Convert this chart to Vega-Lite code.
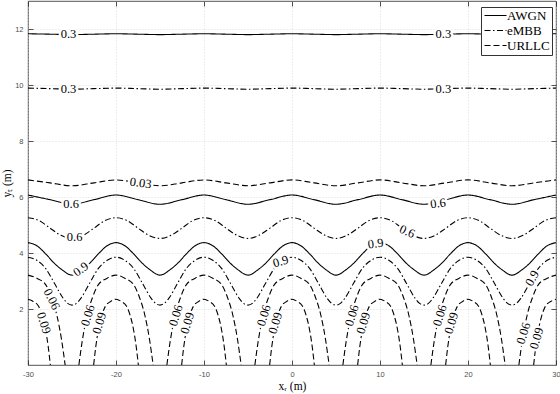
{
"$schema": "https://vega.github.io/schema/vega-lite/v6.json",
"width": 528, "height": 364,
"autosize": {"type": "none"},
"padding": {"left": 28, "top": 1, "right": 4, "bottom": 29},
"background": "white",
"config": {"view": {"stroke": "#262626", "strokeWidth": 0.8}},
"datasets": {
"lines": [
{"s":"AWGN","c":"A3","x":-30,"y":11.83},{"s":"AWGN","c":"A3","x":-27.5,"y":11.815},{"s":"AWGN","c":"A3","x":-25,"y":11.8},{"s":"AWGN","c":"A3","x":-22.5,"y":11.815},{"s":"AWGN","c":"A3","x":-20,"y":11.83},{"s":"AWGN","c":"A3","x":-17.5,"y":11.815},{"s":"AWGN","c":"A3","x":-15,"y":11.8},{"s":"AWGN","c":"A3","x":-12.5,"y":11.815},{"s":"AWGN","c":"A3","x":-10,"y":11.83},{"s":"AWGN","c":"A3","x":-7.5,"y":11.815},{"s":"AWGN","c":"A3","x":-5,"y":11.8},{"s":"AWGN","c":"A3","x":-2.5,"y":11.815},{"s":"AWGN","c":"A3","x":0,"y":11.83},{"s":"AWGN","c":"A3","x":2.5,"y":11.815},{"s":"AWGN","c":"A3","x":5,"y":11.8},{"s":"AWGN","c":"A3","x":7.5,"y":11.815},{"s":"AWGN","c":"A3","x":10,"y":11.83},{"s":"AWGN","c":"A3","x":12.5,"y":11.815},{"s":"AWGN","c":"A3","x":15,"y":11.8},{"s":"AWGN","c":"A3","x":17.5,"y":11.815},{"s":"AWGN","c":"A3","x":20,"y":11.83},{"s":"AWGN","c":"A3","x":22.5,"y":11.815},{"s":"AWGN","c":"A3","x":25,"y":11.8},{"s":"AWGN","c":"A3","x":27.5,"y":11.815},{"s":"AWGN","c":"A3","x":30,"y":11.83},
{"s":"eMBB","c":"E3","x":-30,"y":9.89},{"s":"eMBB","c":"E3","x":-27.5,"y":9.87},{"s":"eMBB","c":"E3","x":-25,"y":9.85},{"s":"eMBB","c":"E3","x":-22.5,"y":9.87},{"s":"eMBB","c":"E3","x":-20,"y":9.89},{"s":"eMBB","c":"E3","x":-17.5,"y":9.87},{"s":"eMBB","c":"E3","x":-15,"y":9.85},{"s":"eMBB","c":"E3","x":-12.5,"y":9.87},{"s":"eMBB","c":"E3","x":-10,"y":9.89},{"s":"eMBB","c":"E3","x":-7.5,"y":9.87},{"s":"eMBB","c":"E3","x":-5,"y":9.85},{"s":"eMBB","c":"E3","x":-2.5,"y":9.87},{"s":"eMBB","c":"E3","x":0,"y":9.89},{"s":"eMBB","c":"E3","x":2.5,"y":9.87},{"s":"eMBB","c":"E3","x":5,"y":9.85},{"s":"eMBB","c":"E3","x":7.5,"y":9.87},{"s":"eMBB","c":"E3","x":10,"y":9.89},{"s":"eMBB","c":"E3","x":12.5,"y":9.87},{"s":"eMBB","c":"E3","x":15,"y":9.85},{"s":"eMBB","c":"E3","x":17.5,"y":9.87},{"s":"eMBB","c":"E3","x":20,"y":9.89},{"s":"eMBB","c":"E3","x":22.5,"y":9.87},{"s":"eMBB","c":"E3","x":25,"y":9.85},{"s":"eMBB","c":"E3","x":27.5,"y":9.87},{"s":"eMBB","c":"E3","x":30,"y":9.89},
{"s":"URLLC","c":"U3","x":-30,"y":6.61},{"s":"URLLC","c":"U3","x":-27.5,"y":6.505},{"s":"URLLC","c":"U3","x":-25,"y":6.4},{"s":"URLLC","c":"U3","x":-22.5,"y":6.505},{"s":"URLLC","c":"U3","x":-20,"y":6.61},{"s":"URLLC","c":"U3","x":-17.5,"y":6.505},{"s":"URLLC","c":"U3","x":-15,"y":6.4},{"s":"URLLC","c":"U3","x":-12.5,"y":6.505},{"s":"URLLC","c":"U3","x":-10,"y":6.61},{"s":"URLLC","c":"U3","x":-7.5,"y":6.505},{"s":"URLLC","c":"U3","x":-5,"y":6.4},{"s":"URLLC","c":"U3","x":-2.5,"y":6.505},{"s":"URLLC","c":"U3","x":0,"y":6.61},{"s":"URLLC","c":"U3","x":2.5,"y":6.505},{"s":"URLLC","c":"U3","x":5,"y":6.4},{"s":"URLLC","c":"U3","x":7.5,"y":6.505},{"s":"URLLC","c":"U3","x":10,"y":6.61},{"s":"URLLC","c":"U3","x":12.5,"y":6.505},{"s":"URLLC","c":"U3","x":15,"y":6.4},{"s":"URLLC","c":"U3","x":17.5,"y":6.505},{"s":"URLLC","c":"U3","x":20,"y":6.61},{"s":"URLLC","c":"U3","x":22.5,"y":6.505},{"s":"URLLC","c":"U3","x":25,"y":6.4},{"s":"URLLC","c":"U3","x":27.5,"y":6.505},{"s":"URLLC","c":"U3","x":30,"y":6.61},
{"s":"AWGN","c":"A6","x":-30,"y":6.07},{"s":"AWGN","c":"A6","x":-27.5,"y":5.905},{"s":"AWGN","c":"A6","x":-25,"y":5.74},{"s":"AWGN","c":"A6","x":-22.5,"y":5.905},{"s":"AWGN","c":"A6","x":-20,"y":6.07},{"s":"AWGN","c":"A6","x":-17.5,"y":5.905},{"s":"AWGN","c":"A6","x":-15,"y":5.74},{"s":"AWGN","c":"A6","x":-12.5,"y":5.905},{"s":"AWGN","c":"A6","x":-10,"y":6.07},{"s":"AWGN","c":"A6","x":-7.5,"y":5.905},{"s":"AWGN","c":"A6","x":-5,"y":5.74},{"s":"AWGN","c":"A6","x":-2.5,"y":5.905},{"s":"AWGN","c":"A6","x":0,"y":6.07},{"s":"AWGN","c":"A6","x":2.5,"y":5.905},{"s":"AWGN","c":"A6","x":5,"y":5.74},{"s":"AWGN","c":"A6","x":7.5,"y":5.905},{"s":"AWGN","c":"A6","x":10,"y":6.07},{"s":"AWGN","c":"A6","x":12.5,"y":5.905},{"s":"AWGN","c":"A6","x":15,"y":5.74},{"s":"AWGN","c":"A6","x":17.5,"y":5.905},{"s":"AWGN","c":"A6","x":20,"y":6.07},{"s":"AWGN","c":"A6","x":22.5,"y":5.905},{"s":"AWGN","c":"A6","x":25,"y":5.74},{"s":"AWGN","c":"A6","x":27.5,"y":5.905},{"s":"AWGN","c":"A6","x":30,"y":6.07},
{"s":"eMBB","c":"E6","x":-30,"y":5.26},{"s":"eMBB","c":"E6","x":-28.75,"y":5.16},{"s":"eMBB","c":"E6","x":-27.5,"y":4.89},{"s":"eMBB","c":"E6","x":-26.25,"y":4.63},{"s":"eMBB","c":"E6","x":-25,"y":4.52},{"s":"eMBB","c":"E6","x":-23.75,"y":4.63},{"s":"eMBB","c":"E6","x":-22.5,"y":4.89},{"s":"eMBB","c":"E6","x":-21.25,"y":5.16},
{"s":"eMBB","c":"E6","x":-20,"y":5.26},{"s":"eMBB","c":"E6","x":-18.75,"y":5.16},{"s":"eMBB","c":"E6","x":-17.5,"y":4.89},{"s":"eMBB","c":"E6","x":-16.25,"y":4.63},{"s":"eMBB","c":"E6","x":-15,"y":4.52},{"s":"eMBB","c":"E6","x":-13.75,"y":4.63},{"s":"eMBB","c":"E6","x":-12.5,"y":4.89},{"s":"eMBB","c":"E6","x":-11.25,"y":5.16},
{"s":"eMBB","c":"E6","x":-10,"y":5.26},{"s":"eMBB","c":"E6","x":-8.75,"y":5.16},{"s":"eMBB","c":"E6","x":-7.5,"y":4.89},{"s":"eMBB","c":"E6","x":-6.25,"y":4.63},{"s":"eMBB","c":"E6","x":-5,"y":4.52},{"s":"eMBB","c":"E6","x":-3.75,"y":4.63},{"s":"eMBB","c":"E6","x":-2.5,"y":4.89},{"s":"eMBB","c":"E6","x":-1.25,"y":5.16},
{"s":"eMBB","c":"E6","x":0,"y":5.26},{"s":"eMBB","c":"E6","x":1.25,"y":5.16},{"s":"eMBB","c":"E6","x":2.5,"y":4.89},{"s":"eMBB","c":"E6","x":3.75,"y":4.63},{"s":"eMBB","c":"E6","x":5,"y":4.52},{"s":"eMBB","c":"E6","x":6.25,"y":4.63},{"s":"eMBB","c":"E6","x":7.5,"y":4.89},{"s":"eMBB","c":"E6","x":8.75,"y":5.16},
{"s":"eMBB","c":"E6","x":10,"y":5.26},{"s":"eMBB","c":"E6","x":11.25,"y":5.16},{"s":"eMBB","c":"E6","x":12.5,"y":4.89},{"s":"eMBB","c":"E6","x":13.75,"y":4.63},{"s":"eMBB","c":"E6","x":15,"y":4.52},{"s":"eMBB","c":"E6","x":16.25,"y":4.63},{"s":"eMBB","c":"E6","x":17.5,"y":4.89},{"s":"eMBB","c":"E6","x":18.75,"y":5.16},
{"s":"eMBB","c":"E6","x":20,"y":5.26},{"s":"eMBB","c":"E6","x":21.25,"y":5.16},{"s":"eMBB","c":"E6","x":22.5,"y":4.89},{"s":"eMBB","c":"E6","x":23.75,"y":4.63},{"s":"eMBB","c":"E6","x":25,"y":4.52},{"s":"eMBB","c":"E6","x":26.25,"y":4.63},{"s":"eMBB","c":"E6","x":27.5,"y":4.89},{"s":"eMBB","c":"E6","x":28.75,"y":5.16},
{"s":"eMBB","c":"E6","x":30,"y":5.26},
{"s":"AWGN","c":"A9","x":-30,"y":4.37},{"s":"AWGN","c":"A9","x":-29,"y":4.26},{"s":"AWGN","c":"A9","x":-28,"y":3.97},{"s":"AWGN","c":"A9","x":-27,"y":3.63},{"s":"AWGN","c":"A9","x":-26,"y":3.37},{"s":"AWGN","c":"A9","x":-25.5,"y":3.26},{"s":"AWGN","c":"A9","x":-25,"y":3.21},{"s":"AWGN","c":"A9","x":-24.5,"y":3.26},{"s":"AWGN","c":"A9","x":-24,"y":3.37},{"s":"AWGN","c":"A9","x":-23,"y":3.63},{"s":"AWGN","c":"A9","x":-22,"y":3.97},{"s":"AWGN","c":"A9","x":-21,"y":4.26},
{"s":"AWGN","c":"A9","x":-20,"y":4.37},{"s":"AWGN","c":"A9","x":-19,"y":4.26},{"s":"AWGN","c":"A9","x":-18,"y":3.97},{"s":"AWGN","c":"A9","x":-17,"y":3.63},{"s":"AWGN","c":"A9","x":-16,"y":3.37},{"s":"AWGN","c":"A9","x":-15.5,"y":3.26},{"s":"AWGN","c":"A9","x":-15,"y":3.21},{"s":"AWGN","c":"A9","x":-14.5,"y":3.26},{"s":"AWGN","c":"A9","x":-14,"y":3.37},{"s":"AWGN","c":"A9","x":-13,"y":3.63},{"s":"AWGN","c":"A9","x":-12,"y":3.97},{"s":"AWGN","c":"A9","x":-11,"y":4.26},
{"s":"AWGN","c":"A9","x":-10,"y":4.37},{"s":"AWGN","c":"A9","x":-9,"y":4.26},{"s":"AWGN","c":"A9","x":-8,"y":3.97},{"s":"AWGN","c":"A9","x":-7,"y":3.63},{"s":"AWGN","c":"A9","x":-6,"y":3.37},{"s":"AWGN","c":"A9","x":-5.5,"y":3.26},{"s":"AWGN","c":"A9","x":-5,"y":3.21},{"s":"AWGN","c":"A9","x":-4.5,"y":3.26},{"s":"AWGN","c":"A9","x":-4,"y":3.37},{"s":"AWGN","c":"A9","x":-3,"y":3.63},{"s":"AWGN","c":"A9","x":-2,"y":3.97},{"s":"AWGN","c":"A9","x":-1,"y":4.26},
{"s":"AWGN","c":"A9","x":0,"y":4.37},{"s":"AWGN","c":"A9","x":1,"y":4.26},{"s":"AWGN","c":"A9","x":2,"y":3.97},{"s":"AWGN","c":"A9","x":3,"y":3.63},{"s":"AWGN","c":"A9","x":4,"y":3.37},{"s":"AWGN","c":"A9","x":4.5,"y":3.26},{"s":"AWGN","c":"A9","x":5,"y":3.21},{"s":"AWGN","c":"A9","x":5.5,"y":3.26},{"s":"AWGN","c":"A9","x":6,"y":3.37},{"s":"AWGN","c":"A9","x":7,"y":3.63},{"s":"AWGN","c":"A9","x":8,"y":3.97},{"s":"AWGN","c":"A9","x":9,"y":4.26},
{"s":"AWGN","c":"A9","x":10,"y":4.37},{"s":"AWGN","c":"A9","x":11,"y":4.26},{"s":"AWGN","c":"A9","x":12,"y":3.97},{"s":"AWGN","c":"A9","x":13,"y":3.63},{"s":"AWGN","c":"A9","x":14,"y":3.37},{"s":"AWGN","c":"A9","x":14.5,"y":3.26},{"s":"AWGN","c":"A9","x":15,"y":3.21},{"s":"AWGN","c":"A9","x":15.5,"y":3.26},{"s":"AWGN","c":"A9","x":16,"y":3.37},{"s":"AWGN","c":"A9","x":17,"y":3.63},{"s":"AWGN","c":"A9","x":18,"y":3.97},{"s":"AWGN","c":"A9","x":19,"y":4.26},
{"s":"AWGN","c":"A9","x":20,"y":4.37},{"s":"AWGN","c":"A9","x":21,"y":4.26},{"s":"AWGN","c":"A9","x":22,"y":3.97},{"s":"AWGN","c":"A9","x":23,"y":3.63},{"s":"AWGN","c":"A9","x":24,"y":3.37},{"s":"AWGN","c":"A9","x":24.5,"y":3.26},{"s":"AWGN","c":"A9","x":25,"y":3.21},{"s":"AWGN","c":"A9","x":25.5,"y":3.26},{"s":"AWGN","c":"A9","x":26,"y":3.37},{"s":"AWGN","c":"A9","x":27,"y":3.63},{"s":"AWGN","c":"A9","x":28,"y":3.97},{"s":"AWGN","c":"A9","x":29,"y":4.26},
{"s":"AWGN","c":"A9","x":30,"y":4.37},
{"s":"eMBB","c":"E9","x":-30,"y":3.85},{"s":"eMBB","c":"E9","x":-29,"y":3.74},{"s":"eMBB","c":"E9","x":-28,"y":3.45},{"s":"eMBB","c":"E9","x":-27,"y":2.92},{"s":"eMBB","c":"E9","x":-26,"y":2.38},{"s":"eMBB","c":"E9","x":-25.5,"y":2.2},{"s":"eMBB","c":"E9","x":-25,"y":2.14},{"s":"eMBB","c":"E9","x":-24.5,"y":2.2},{"s":"eMBB","c":"E9","x":-24,"y":2.38},{"s":"eMBB","c":"E9","x":-23,"y":2.92},{"s":"eMBB","c":"E9","x":-22,"y":3.45},{"s":"eMBB","c":"E9","x":-21,"y":3.74},
{"s":"eMBB","c":"E9","x":-20,"y":3.85},{"s":"eMBB","c":"E9","x":-19,"y":3.74},{"s":"eMBB","c":"E9","x":-18,"y":3.45},{"s":"eMBB","c":"E9","x":-17,"y":2.92},{"s":"eMBB","c":"E9","x":-16,"y":2.38},{"s":"eMBB","c":"E9","x":-15.5,"y":2.2},{"s":"eMBB","c":"E9","x":-15,"y":2.14},{"s":"eMBB","c":"E9","x":-14.5,"y":2.2},{"s":"eMBB","c":"E9","x":-14,"y":2.38},{"s":"eMBB","c":"E9","x":-13,"y":2.92},{"s":"eMBB","c":"E9","x":-12,"y":3.45},{"s":"eMBB","c":"E9","x":-11,"y":3.74},
{"s":"eMBB","c":"E9","x":-10,"y":3.85},{"s":"eMBB","c":"E9","x":-9,"y":3.74},{"s":"eMBB","c":"E9","x":-8,"y":3.45},{"s":"eMBB","c":"E9","x":-7,"y":2.92},{"s":"eMBB","c":"E9","x":-6,"y":2.38},{"s":"eMBB","c":"E9","x":-5.5,"y":2.2},{"s":"eMBB","c":"E9","x":-5,"y":2.14},{"s":"eMBB","c":"E9","x":-4.5,"y":2.2},{"s":"eMBB","c":"E9","x":-4,"y":2.38},{"s":"eMBB","c":"E9","x":-3,"y":2.92},{"s":"eMBB","c":"E9","x":-2,"y":3.45},{"s":"eMBB","c":"E9","x":-1,"y":3.74},
{"s":"eMBB","c":"E9","x":0,"y":3.85},{"s":"eMBB","c":"E9","x":1,"y":3.74},{"s":"eMBB","c":"E9","x":2,"y":3.45},{"s":"eMBB","c":"E9","x":3,"y":2.92},{"s":"eMBB","c":"E9","x":4,"y":2.38},{"s":"eMBB","c":"E9","x":4.5,"y":2.2},{"s":"eMBB","c":"E9","x":5,"y":2.14},{"s":"eMBB","c":"E9","x":5.5,"y":2.2},{"s":"eMBB","c":"E9","x":6,"y":2.38},{"s":"eMBB","c":"E9","x":7,"y":2.92},{"s":"eMBB","c":"E9","x":8,"y":3.45},{"s":"eMBB","c":"E9","x":9,"y":3.74},
{"s":"eMBB","c":"E9","x":10,"y":3.85},{"s":"eMBB","c":"E9","x":11,"y":3.74},{"s":"eMBB","c":"E9","x":12,"y":3.45},{"s":"eMBB","c":"E9","x":13,"y":2.92},{"s":"eMBB","c":"E9","x":14,"y":2.38},{"s":"eMBB","c":"E9","x":14.5,"y":2.2},{"s":"eMBB","c":"E9","x":15,"y":2.14},{"s":"eMBB","c":"E9","x":15.5,"y":2.2},{"s":"eMBB","c":"E9","x":16,"y":2.38},{"s":"eMBB","c":"E9","x":17,"y":2.92},{"s":"eMBB","c":"E9","x":18,"y":3.45},{"s":"eMBB","c":"E9","x":19,"y":3.74},
{"s":"eMBB","c":"E9","x":20,"y":3.85},{"s":"eMBB","c":"E9","x":21,"y":3.74},{"s":"eMBB","c":"E9","x":22,"y":3.45},{"s":"eMBB","c":"E9","x":23,"y":2.92},{"s":"eMBB","c":"E9","x":24,"y":2.38},{"s":"eMBB","c":"E9","x":24.5,"y":2.2},{"s":"eMBB","c":"E9","x":25,"y":2.14},{"s":"eMBB","c":"E9","x":25.5,"y":2.2},{"s":"eMBB","c":"E9","x":26,"y":2.38},{"s":"eMBB","c":"E9","x":27,"y":2.92},{"s":"eMBB","c":"E9","x":28,"y":3.45},{"s":"eMBB","c":"E9","x":29,"y":3.74},
{"s":"eMBB","c":"E9","x":30,"y":3.85},
{"s":"URLLC","c":"U6a","x":-30,"y":3.21},{"s":"URLLC","c":"U6a","x":-29,"y":3.1},{"s":"URLLC","c":"U6a","x":-28,"y":2.87},{"s":"URLLC","c":"U6a","x":-27.35,"y":2.43},{"s":"URLLC","c":"U6a","x":-26.7,"y":1.75},{"s":"URLLC","c":"U6a","x":-26.18,"y":0.89},{"s":"URLLC","c":"U6a","x":-25.78,"y":0},
{"s":"URLLC","c":"U6b","x":-24.22,"y":0},{"s":"URLLC","c":"U6b","x":-23.82,"y":0.89},{"s":"URLLC","c":"U6b","x":-23.3,"y":1.75},{"s":"URLLC","c":"U6b","x":-22.65,"y":2.43},{"s":"URLLC","c":"U6b","x":-22,"y":2.87},{"s":"URLLC","c":"U6b","x":-21,"y":3.1},{"s":"URLLC","c":"U6b","x":-20,"y":3.21},{"s":"URLLC","c":"U6b","x":-19,"y":3.1},{"s":"URLLC","c":"U6b","x":-18,"y":2.87},{"s":"URLLC","c":"U6b","x":-17.35,"y":2.43},{"s":"URLLC","c":"U6b","x":-16.7,"y":1.75},{"s":"URLLC","c":"U6b","x":-16.18,"y":0.89},{"s":"URLLC","c":"U6b","x":-15.78,"y":0},
{"s":"URLLC","c":"U6c","x":-14.22,"y":0},{"s":"URLLC","c":"U6c","x":-13.82,"y":0.89},{"s":"URLLC","c":"U6c","x":-13.3,"y":1.75},{"s":"URLLC","c":"U6c","x":-12.65,"y":2.43},{"s":"URLLC","c":"U6c","x":-12,"y":2.87},{"s":"URLLC","c":"U6c","x":-11,"y":3.1},{"s":"URLLC","c":"U6c","x":-10,"y":3.21},{"s":"URLLC","c":"U6c","x":-9,"y":3.1},{"s":"URLLC","c":"U6c","x":-8,"y":2.87},{"s":"URLLC","c":"U6c","x":-7.35,"y":2.43},{"s":"URLLC","c":"U6c","x":-6.7,"y":1.75},{"s":"URLLC","c":"U6c","x":-6.18,"y":0.89},{"s":"URLLC","c":"U6c","x":-5.78,"y":0},
{"s":"URLLC","c":"U6d","x":-4.22,"y":0},{"s":"URLLC","c":"U6d","x":-3.82,"y":0.89},{"s":"URLLC","c":"U6d","x":-3.3,"y":1.75},{"s":"URLLC","c":"U6d","x":-2.65,"y":2.43},{"s":"URLLC","c":"U6d","x":-2,"y":2.87},{"s":"URLLC","c":"U6d","x":-1,"y":3.1},{"s":"URLLC","c":"U6d","x":0,"y":3.21},{"s":"URLLC","c":"U6d","x":1,"y":3.1},{"s":"URLLC","c":"U6d","x":2,"y":2.87},{"s":"URLLC","c":"U6d","x":2.65,"y":2.43},{"s":"URLLC","c":"U6d","x":3.3,"y":1.75},{"s":"URLLC","c":"U6d","x":3.82,"y":0.89},{"s":"URLLC","c":"U6d","x":4.22,"y":0},
{"s":"URLLC","c":"U6e","x":5.78,"y":0},{"s":"URLLC","c":"U6e","x":6.18,"y":0.89},{"s":"URLLC","c":"U6e","x":6.7,"y":1.75},{"s":"URLLC","c":"U6e","x":7.35,"y":2.43},{"s":"URLLC","c":"U6e","x":8,"y":2.87},{"s":"URLLC","c":"U6e","x":9,"y":3.1},{"s":"URLLC","c":"U6e","x":10,"y":3.21},{"s":"URLLC","c":"U6e","x":11,"y":3.1},{"s":"URLLC","c":"U6e","x":12,"y":2.87},{"s":"URLLC","c":"U6e","x":12.65,"y":2.43},{"s":"URLLC","c":"U6e","x":13.3,"y":1.75},{"s":"URLLC","c":"U6e","x":13.82,"y":0.89},{"s":"URLLC","c":"U6e","x":14.22,"y":0},
{"s":"URLLC","c":"U6f","x":15.78,"y":0},{"s":"URLLC","c":"U6f","x":16.18,"y":0.89},{"s":"URLLC","c":"U6f","x":16.7,"y":1.75},{"s":"URLLC","c":"U6f","x":17.35,"y":2.43},{"s":"URLLC","c":"U6f","x":18,"y":2.87},{"s":"URLLC","c":"U6f","x":19,"y":3.1},{"s":"URLLC","c":"U6f","x":20,"y":3.21},{"s":"URLLC","c":"U6f","x":21,"y":3.1},{"s":"URLLC","c":"U6f","x":22,"y":2.87},{"s":"URLLC","c":"U6f","x":22.65,"y":2.43},{"s":"URLLC","c":"U6f","x":23.3,"y":1.75},{"s":"URLLC","c":"U6f","x":23.82,"y":0.89},{"s":"URLLC","c":"U6f","x":24.22,"y":0},
{"s":"URLLC","c":"U6g","x":25.78,"y":0},{"s":"URLLC","c":"U6g","x":26.18,"y":0.89},{"s":"URLLC","c":"U6g","x":26.7,"y":1.75},{"s":"URLLC","c":"U6g","x":27.35,"y":2.43},{"s":"URLLC","c":"U6g","x":28,"y":2.87},{"s":"URLLC","c":"U6g","x":29,"y":3.1},{"s":"URLLC","c":"U6g","x":30,"y":3.21},
{"s":"URLLC","c":"U9a","x":-30,"y":2.35},{"s":"URLLC","c":"U9a","x":-29.4,"y":2.27},{"s":"URLLC","c":"U9a","x":-28.8,"y":2.1},{"s":"URLLC","c":"U9a","x":-28.4,"y":1.78},{"s":"URLLC","c":"U9a","x":-28,"y":1.25},{"s":"URLLC","c":"U9a","x":-27.7,"y":0.65},{"s":"URLLC","c":"U9a","x":-27.46,"y":0},
{"s":"URLLC","c":"U9b","x":-22.54,"y":0},{"s":"URLLC","c":"U9b","x":-22.3,"y":0.65},{"s":"URLLC","c":"U9b","x":-22,"y":1.25},{"s":"URLLC","c":"U9b","x":-21.6,"y":1.78},{"s":"URLLC","c":"U9b","x":-21.2,"y":2.1},{"s":"URLLC","c":"U9b","x":-20.6,"y":2.27},{"s":"URLLC","c":"U9b","x":-20,"y":2.35},{"s":"URLLC","c":"U9b","x":-19.4,"y":2.27},{"s":"URLLC","c":"U9b","x":-18.8,"y":2.1},{"s":"URLLC","c":"U9b","x":-18.4,"y":1.78},{"s":"URLLC","c":"U9b","x":-18,"y":1.25},{"s":"URLLC","c":"U9b","x":-17.7,"y":0.65},{"s":"URLLC","c":"U9b","x":-17.46,"y":0},
{"s":"URLLC","c":"U9c","x":-12.54,"y":0},{"s":"URLLC","c":"U9c","x":-12.3,"y":0.65},{"s":"URLLC","c":"U9c","x":-12,"y":1.25},{"s":"URLLC","c":"U9c","x":-11.6,"y":1.78},{"s":"URLLC","c":"U9c","x":-11.2,"y":2.1},{"s":"URLLC","c":"U9c","x":-10.6,"y":2.27},{"s":"URLLC","c":"U9c","x":-10,"y":2.35},{"s":"URLLC","c":"U9c","x":-9.4,"y":2.27},{"s":"URLLC","c":"U9c","x":-8.8,"y":2.1},{"s":"URLLC","c":"U9c","x":-8.4,"y":1.78},{"s":"URLLC","c":"U9c","x":-8,"y":1.25},{"s":"URLLC","c":"U9c","x":-7.7,"y":0.65},{"s":"URLLC","c":"U9c","x":-7.46,"y":0},
{"s":"URLLC","c":"U9d","x":-2.54,"y":0},{"s":"URLLC","c":"U9d","x":-2.3,"y":0.65},{"s":"URLLC","c":"U9d","x":-2,"y":1.25},{"s":"URLLC","c":"U9d","x":-1.6,"y":1.78},{"s":"URLLC","c":"U9d","x":-1.2,"y":2.1},{"s":"URLLC","c":"U9d","x":-0.6,"y":2.27},{"s":"URLLC","c":"U9d","x":0,"y":2.35},{"s":"URLLC","c":"U9d","x":0.6,"y":2.27},{"s":"URLLC","c":"U9d","x":1.2,"y":2.1},{"s":"URLLC","c":"U9d","x":1.6,"y":1.78},{"s":"URLLC","c":"U9d","x":2,"y":1.25},{"s":"URLLC","c":"U9d","x":2.3,"y":0.65},{"s":"URLLC","c":"U9d","x":2.54,"y":0},
{"s":"URLLC","c":"U9e","x":7.46,"y":0},{"s":"URLLC","c":"U9e","x":7.7,"y":0.65},{"s":"URLLC","c":"U9e","x":8,"y":1.25},{"s":"URLLC","c":"U9e","x":8.4,"y":1.78},{"s":"URLLC","c":"U9e","x":8.8,"y":2.1},{"s":"URLLC","c":"U9e","x":9.4,"y":2.27},{"s":"URLLC","c":"U9e","x":10,"y":2.35},{"s":"URLLC","c":"U9e","x":10.6,"y":2.27},{"s":"URLLC","c":"U9e","x":11.2,"y":2.1},{"s":"URLLC","c":"U9e","x":11.6,"y":1.78},{"s":"URLLC","c":"U9e","x":12,"y":1.25},{"s":"URLLC","c":"U9e","x":12.3,"y":0.65},{"s":"URLLC","c":"U9e","x":12.54,"y":0},
{"s":"URLLC","c":"U9f","x":17.46,"y":0},{"s":"URLLC","c":"U9f","x":17.7,"y":0.65},{"s":"URLLC","c":"U9f","x":18,"y":1.25},{"s":"URLLC","c":"U9f","x":18.4,"y":1.78},{"s":"URLLC","c":"U9f","x":18.8,"y":2.1},{"s":"URLLC","c":"U9f","x":19.4,"y":2.27},{"s":"URLLC","c":"U9f","x":20,"y":2.35},{"s":"URLLC","c":"U9f","x":20.6,"y":2.27},{"s":"URLLC","c":"U9f","x":21.2,"y":2.1},{"s":"URLLC","c":"U9f","x":21.6,"y":1.78},{"s":"URLLC","c":"U9f","x":22,"y":1.25},{"s":"URLLC","c":"U9f","x":22.3,"y":0.65},{"s":"URLLC","c":"U9f","x":22.54,"y":0},
{"s":"URLLC","c":"U9g","x":27.46,"y":0},{"s":"URLLC","c":"U9g","x":27.7,"y":0.65},{"s":"URLLC","c":"U9g","x":28,"y":1.25},{"s":"URLLC","c":"U9g","x":28.4,"y":1.78},{"s":"URLLC","c":"U9g","x":28.8,"y":2.1},{"s":"URLLC","c":"U9g","x":29.4,"y":2.27},{"s":"URLLC","c":"U9g","x":30,"y":2.35}
],
"labels": [
{"t":"0.3","x":-25.4,"y":11.82,"o":"level"},
{"t":"0.3","x":17.2,"y":11.815,"o":"level"},
{"t":"0.3","x":-25.4,"y":9.86,"o":"level"},
{"t":"0.3","x":17.2,"y":9.865,"o":"level"},
{"t":"0.03","x":-17.2,"y":6.5,"o":"ease-down"},
{"t":"0.6","x":-25.1,"y":5.76,"o":"level"},
{"t":"0.6","x":16.6,"y":5.77,"o":"ease-up"},
{"t":"0.6","x":-24.7,"y":4.56,"o":"level"},
{"t":"0.6","x":13.1,"y":4.77,"o":"down"},
{"t":"0.9","x":-24,"y":3.42,"o":"rise"},
{"t":"0.9","x":9.5,"y":4.34,"o":"ease-up"},
{"t":"0.9","x":-1.3,"y":3.7,"o":"up"},
{"t":"0.9","x":27.3,"y":3.1,"o":"climb"},
{"t":"0.06","x":-27.3,"y":2.35,"o":"drop"},
{"t":"0.09","x":-28.2,"y":1.5,"o":"dive"},
{"t":"0.06","x":-23.2,"y":1.77,"o":"steep"},
{"t":"0.09","x":-21.9,"y":1.5,"o":"steep"},
{"t":"0.06","x":-13.2,"y":1.77,"o":"steep"},
{"t":"0.09","x":-11.9,"y":1.5,"o":"steep"},
{"t":"0.06","x":-3.2,"y":1.77,"o":"steep"},
{"t":"0.09","x":-1.9,"y":1.5,"o":"steep"},
{"t":"0.06","x":6.8,"y":1.77,"o":"steep"},
{"t":"0.09","x":8.1,"y":1.5,"o":"steep"},
{"t":"0.06","x":16.8,"y":1.77,"o":"steep"},
{"t":"0.09","x":18.1,"y":1.5,"o":"steep"},
{"t":"0.06","x":26.3,"y":1.13,"o":"steep"},
{"t":"0.09","x":27.8,"y":0.95,"o":"steep"}
]
},
"layer": [
{
"data": {"name": "lines"},
"mark": {"type": "line", "interpolate": "monotone", "strokeWidth": 1.1, "color": "black", "clip": true},
"encoding": {
"x": {"field": "x", "type": "quantitative", "scale": {"domain": [-30, 30], "nice": false, "zero": false},
"axis": {"values": [-30, -20, -10, 0, 10, 20, 30], "title": "x\u1d63 (m)", "grid": true, "gridColor": "#d0d0d0", "gridDash": [1, 2], "gridWidth": 0.7, "domain": false, "tickSize": -5, "tickColor": "#262626", "tickWidth": 0.8, "labelFont": "Liberation Sans", "labelFontSize": 7.5, "labelColor": "#4d4d4d", "labelPadding": 10, "labelFlush": false, "labelExpr": "replace(datum.label, '\u2212', '-')", "titleFont": "Liberation Serif", "titleFontSize": 11.5, "titleFontWeight": "normal", "titleColor": "black", "titlePadding": 3}},
"y": {"field": "y", "type": "quantitative", "scale": {"domain": [0, 13], "nice": false, "zero": false},
"axis": {"values": [2, 4, 6, 8, 10, 12], "title": "y\u209c (m)", "grid": true, "gridColor": "#d0d0d0", "gridDash": [1, 2], "gridWidth": 0.7, "domain": false, "tickSize": -5, "tickColor": "#262626", "tickWidth": 0.8, "labelFont": "Liberation Sans", "labelFontSize": 7.5, "labelColor": "#4d4d4d", "labelPadding": 10, "titleFont": "Liberation Serif", "titleFontSize": 11.5, "titleFontWeight": "normal", "titleColor": "black", "titlePadding": 2}},
"detail": {"field": "c", "type": "nominal"},
"strokeDash": {"field": "s", "type": "nominal", "scale": {"domain": ["AWGN", "eMBB", "URLLC"], "range": [[1, 0], [6, 2.5, 1.5, 2.5], [6, 3]]},
"legend": {"title": null, "orient": "none", "legendX": 453, "legendY": 6, "symbolType": "M-2,0L2,0", "symbolSize": 121, "symbolOffset": 6, "symbolStrokeColor": "black", "symbolStrokeWidth": 1.1, "labelFont": "Liberation Serif", "labelFontSize": 13, "labelColor": "black", "labelOffset": 5, "padding": 2, "rowPadding": 1, "fillColor": "white", "strokeColor": "#333333", "cornerRadius": 0}}
}
},
{
"data": {"name": "labels"},
"encoding": {
"x": {"field": "x", "type": "quantitative", "scale": {"domain": [-30, 30], "nice": false, "zero": false}, "axis": null},
"y": {"field": "y", "type": "quantitative", "scale": {"domain": [0, 13], "nice": false, "zero": false}, "axis": null},
"text": {"field": "t"}
},
"layer": [
{"transform": [{"filter": "datum.o == 'level'"}], "layer": [
{"mark": {"type": "text", "font": "Liberation Serif", "fontSize": 12.5, "angle": 0, "fill": "white", "stroke": "white", "strokeWidth": 5}},
{"mark": {"type": "text", "font": "Liberation Serif", "fontSize": 12.5, "angle": 0, "color": "black"}}]},
{"transform": [{"filter": "datum.o == 'ease-down'"}], "layer": [
{"mark": {"type": "text", "font": "Liberation Serif", "fontSize": 12.5, "angle": 8, "fill": "white", "stroke": "white", "strokeWidth": 5}},
{"mark": {"type": "text", "font": "Liberation Serif", "fontSize": 12.5, "angle": 8, "color": "black"}}]},
{"transform": [{"filter": "datum.o == 'ease-up'"}], "layer": [
{"mark": {"type": "text", "font": "Liberation Serif", "fontSize": 12.5, "angle": 353, "fill": "white", "stroke": "white", "strokeWidth": 5}},
{"mark": {"type": "text", "font": "Liberation Serif", "fontSize": 12.5, "angle": 353, "color": "black"}}]},
{"transform": [{"filter": "datum.o == 'down'"}], "layer": [
{"mark": {"type": "text", "font": "Liberation Serif", "fontSize": 12.5, "angle": 24, "fill": "white", "stroke": "white", "strokeWidth": 5}},
{"mark": {"type": "text", "font": "Liberation Serif", "fontSize": 12.5, "angle": 24, "color": "black"}}]},
{"transform": [{"filter": "datum.o == 'up'"}], "layer": [
{"mark": {"type": "text", "font": "Liberation Serif", "fontSize": 12.5, "angle": 344, "fill": "white", "stroke": "white", "strokeWidth": 5}},
{"mark": {"type": "text", "font": "Liberation Serif", "fontSize": 12.5, "angle": 344, "color": "black"}}]},
{"transform": [{"filter": "datum.o == 'rise'"}], "layer": [
{"mark": {"type": "text", "font": "Liberation Serif", "fontSize": 12.5, "angle": 325, "fill": "white", "stroke": "white", "strokeWidth": 5}},
{"mark": {"type": "text", "font": "Liberation Serif", "fontSize": 12.5, "angle": 325, "color": "black"}}]},
{"transform": [{"filter": "datum.o == 'climb'"}], "layer": [
{"mark": {"type": "text", "font": "Liberation Serif", "fontSize": 12.5, "angle": 298, "fill": "white", "stroke": "white", "strokeWidth": 5}},
{"mark": {"type": "text", "font": "Liberation Serif", "fontSize": 12.5, "angle": 298, "color": "black"}}]},
{"transform": [{"filter": "datum.o == 'drop'"}], "layer": [
{"mark": {"type": "text", "font": "Liberation Serif", "fontSize": 12.5, "angle": 63, "fill": "white", "stroke": "white", "strokeWidth": 5}},
{"mark": {"type": "text", "font": "Liberation Serif", "fontSize": 12.5, "angle": 63, "color": "black"}}]},
{"transform": [{"filter": "datum.o == 'dive'"}], "layer": [
{"mark": {"type": "text", "font": "Liberation Serif", "fontSize": 12.5, "angle": 72, "fill": "white", "stroke": "white", "strokeWidth": 5}},
{"mark": {"type": "text", "font": "Liberation Serif", "fontSize": 12.5, "angle": 72, "color": "black"}}]},
{"transform": [{"filter": "datum.o == 'steep'"}], "layer": [
{"mark": {"type": "text", "font": "Liberation Serif", "fontSize": 12.5, "angle": 287, "fill": "white", "stroke": "white", "strokeWidth": 5}},
{"mark": {"type": "text", "font": "Liberation Serif", "fontSize": 12.5, "angle": 287, "color": "black"}}]}
]
},
{
"data": {"name": "labels"},
"mark": {"type": "point", "opacity": 0},
"encoding": {
"x": {"field": "x", "type": "quantitative", "scale": {"domain": [-30, 30], "nice": false, "zero": false},
"axis": {"orient": "top", "values": [-30, -20, -10, 0, 10, 20, 30], "labels": false, "grid": false, "domain": false, "tickSize": -5, "tickColor": "#262626", "tickWidth": 0.8, "title": null}},
"y": {"field": "y", "type": "quantitative", "scale": {"domain": [0, 13], "nice": false, "zero": false},
"axis": {"orient": "right", "values": [2, 4, 6, 8, 10, 12], "labels": false, "grid": false, "domain": false, "tickSize": -5, "tickColor": "#262626", "tickWidth": 0.8, "title": null}}
}
}
],
"resolve": {"axis": {"x": "independent", "y": "independent"}}
}
